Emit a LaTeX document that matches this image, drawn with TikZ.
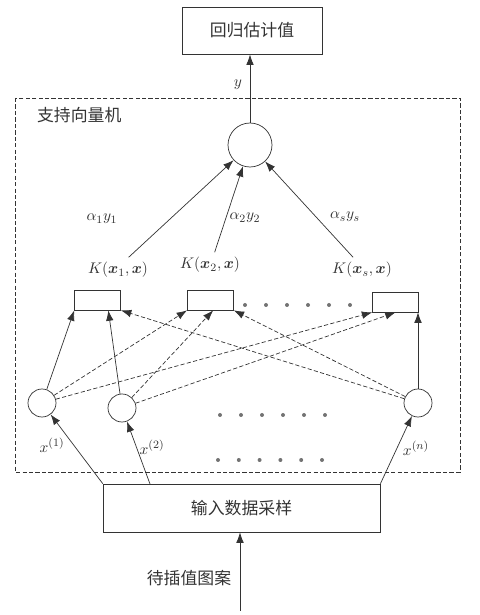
\documentclass[tikz,border=0pt]{standalone}
\usepackage{fontspec}
\usepackage{bm}
\newfontfamily\cjk{Noto Sans CJK SC}
\usetikzlibrary{arrows.meta}

\tikzset{
  cjktext/.style={font=\cjk\fontsize{12}{14}\selectfont},
  mathlab/.style={font=\fontsize{11}{13}\selectfont},
  resbox/.style={draw, rectangle, minimum width=3.5cm, minimum height=1.175cm, cjktext},
  inbox/.style={draw, rectangle, minimum width=6.925cm, minimum height=1.2cm, cjktext},
  kerbox/.style={draw, rectangle, minimum width=1.15cm, minimum height=0.5cm},
  neuron/.style={draw, circle, inner sep=0pt},
  link/.style={-{Latex[length=2.6mm,width=1.9mm]}},
  dashlink/.style={dash pattern=on 3pt off 1.6pt},
  dot/.style={circle, fill=black!55, draw=none, inner sep=0pt, minimum size=1mm},
}

\begin{document}
\begin{tikzpicture}[color=black!80, line width=0.5pt]
  \useasboundingbox (0,0) rectangle (12,15.375);

  % Coordinates
  \coordinate (svmA) at (0.375,12.925);
  \coordinate (svmB) at (11.5,3.575);
  \coordinate (tap2) at (3.75,3.275);
  \coordinate (src) at (6.0,0.1);

  % Nodes
  \node[resbox] (res) at (6.3,14.61) {回归估计值};
  \node[neuron, minimum size=1.1cm] (out) at (6.25,11.75) {};
  \node[mathlab] (ylab) at (5.95,13.25) {$y$};
  \node[cjktext, anchor=west] (svmlab) at (0.8,12.5) {支持向量机};

  \node[mathlab] (w1) at (2.55,9.9) {$\alpha_1 y_1$};
  \node[mathlab] (w2) at (6.125,9.925) {$\alpha_2 y_2$};
  \node[mathlab] (w3) at (8.625,9.95) {$\alpha_s y_s$};

  \node[mathlab] (klab1) at (2.95,8.625) {$K(\bm{x}_1,\bm{x})$};
  \node[mathlab] (klab2) at (5.25,8.75) {$K(\bm{x}_2,\bm{x})$};
  \node[mathlab] (klab3) at (9.05,8.625) {$K(\bm{x}_s,\bm{x})$};

  \node[kerbox] (ker1) at (2.44,7.875) {};
  \node[kerbox] (ker2) at (5.26,7.875) {};
  \node[kerbox] (ker3) at (9.89,7.825) {};

  \node[neuron, minimum size=0.7cm] (in1) at (1.05,5.3) {};
  \node[neuron, minimum size=0.7cm] (in2) at (3.05,5.175) {};
  \node[neuron, minimum size=0.7cm] (in3) at (10.45,5.3) {};

  \node[mathlab] (xlab1) at (1.3,4.25) {$x^{(1)}$};
  \node[mathlab] (xlab2) at (3.8,4.2) {$x^{(2)}$};
  \node[mathlab] (xlab3) at (10.4,4.175) {$x^{(n)}$};

  \node[inbox] (inbox) at (6.04,2.675) {输入数据采样};
  \node[cjktext] (srclab) at (4.725,0.925) {待插值图案};

  % Dots
  \foreach \i in {0,...,5} {
    \node[dot] (da\i) at (6.125+0.525*\i,7.75) {};
    \node[dot] (db\i) at (5.5+0.525*\i,5.0) {};
    \node[dot] (dc\i) at (5.45+0.52*\i,3.875) {};
  }

  % Drawing
  \draw[dashlink] (svmA) rectangle (svmB);
  \draw[link] (out.north) -- (out.north |- res.south);
  \draw[link] (klab1.50) -- (out);
  \draw[link] (klab2.70) -- (out);
  \draw[link] (klab3.125) -- (out);

  \foreach \a/\b/\s in {in1/ker1.south west/solid, in2/ker1.-44/solid,
      in3/ker1.south east/dashlink, in1/ker2.south west/dashlink,
      in2/ker2.-75/dashlink, in3/ker2.south east/dashlink,
      in1/ker3.south west/dashlink, in2/ker3.south/dashlink}
    \draw[link, \s] (\a) -- (\b);
  \draw[link] (in3) -- (in3 |- ker3.south);

  \draw[link] (inbox.north west) -- (in1);
  \draw[link] (tap2) -- (in2);
  \draw[link] (inbox.north east) -- (in3);
  \draw[link] (src) -- (src |- inbox.south);
\end{tikzpicture}
\end{document}
